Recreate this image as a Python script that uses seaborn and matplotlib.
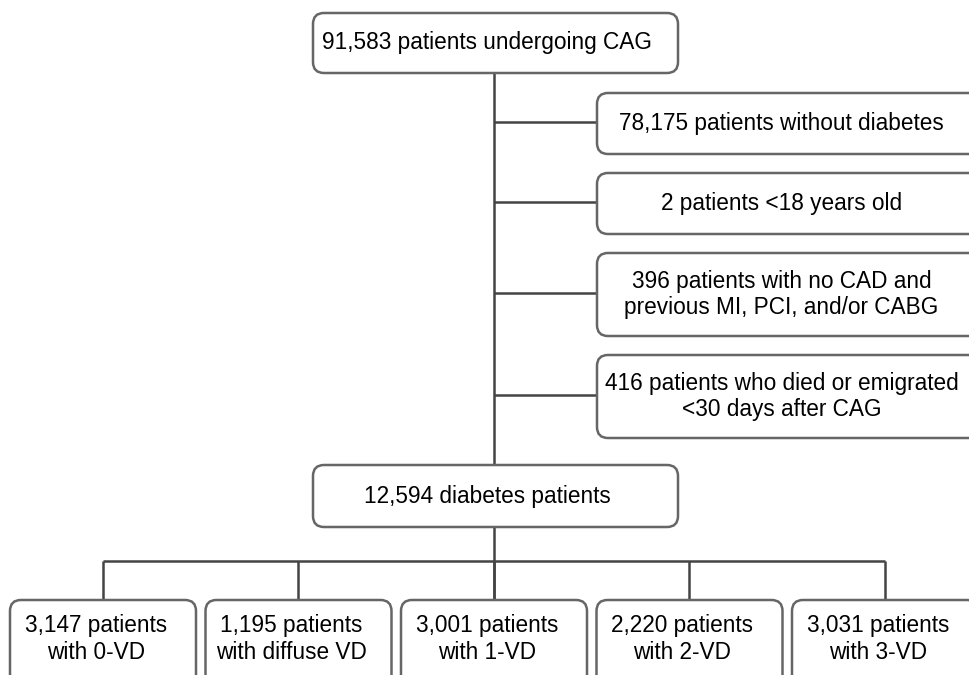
import matplotlib
matplotlib.use("Agg")
import matplotlib.pyplot as plt
from matplotlib.patches import FancyBboxPatch
import seaborn as sns

# flowchart content
total_cag = 91583
excluded_counts = [78175, 2, 396, 416]
excluded_reasons = ["patients without diabetes",
                    "patients <18 years old",
                    "patients with no CAD and\nprevious MI, PCI, and/or CABG",
                    "patients who died or emigrated\n<30 days after CAG"]
diabetes_n = 12594
group_counts = [3147, 1195, 3001, 2220, 3031]
group_labels = ["with 0-VD", "with diffuse VD", "with 1-VD", "with 2-VD", "with 3-VD"]

sns.set_theme(style="white")
plt.rcParams["font.family"] = ["Liberation Sans", "DejaVu Sans"]

W, H = 970, 675
fig = plt.figure(figsize=(W / 100, H / 100), dpi=100)
ax = fig.add_axes([0, 0, 1, 1])
ax.set_xlim(0, W)
ax.set_ylim(H, 0)
ax.axis("off")

edge = "#666666"
wire = "#444444"
fs = 16.3
text_dx = -8


def box(x, y, w, h, label):
    ax.add_patch(FancyBboxPatch((x, y), w, h,
                                boxstyle="round,pad=0,rounding_size=11",
                                fc="white", ec=edge, lw=1.8, zorder=2))
    ax.text(x + w / 2 + text_dx, y + h / 2, label, ha="center", va="center",
            fontsize=fs, color="black", linespacing=1.2, zorder=3)


def wire_line(xs, ys):
    ax.plot(xs, ys, color=wire, lw=1.8, solid_capstyle="butt", zorder=1)


cx = 494

# top and middle boxes
top_y, top_h = 13, 60
mid_y, mid_h = 465, 62
box(313, top_y, 365, top_h, f"{total_cag:,} patients undergoing CAG")
box(313, mid_y, 365, mid_h, f"{diabetes_n:,} diabetes patients")
wire_line([cx, cx], [top_y + top_h, mid_y])

# exclusion boxes on the right
ex_x, ex_w = 597, 385
y = 93
for n, reason in zip(excluded_counts, excluded_reasons):
    h = 83 if "\n" in reason else 61
    box(ex_x, y, ex_w, h, f"{n:,} {reason}")
    wire_line([cx, ex_x], [y + h / 2 - 2, y + h / 2 - 2])
    y += h + 19

# bottom groups
bus_y = 561
bot_y, bot_w, bot_h, step, left0 = 600, 186, 90, 195.5, 10
centers = [left0 + bot_w / 2 + i * step for i in range(len(group_counts))]
wire_line([cx, cx], [mid_y + mid_h, bot_y])
wire_line([centers[0], centers[-1]], [bus_y, bus_y])
for c, n, lab in zip(centers, group_counts, group_labels):
    wire_line([c, c], [bus_y, bot_y])
    ax.add_patch(FancyBboxPatch((c - bot_w / 2, bot_y), bot_w, bot_h,
                                boxstyle="round,pad=0,rounding_size=11",
                                fc="white", ec=edge, lw=1.8, zorder=2))
    ax.text(c + text_dx + 1, bot_y + 39, f"{n:,} patients\n{lab}", ha="center",
            va="center", fontsize=fs, color="black", linespacing=1.2, zorder=3)

fig.savefig("out.png", dpi=100)
